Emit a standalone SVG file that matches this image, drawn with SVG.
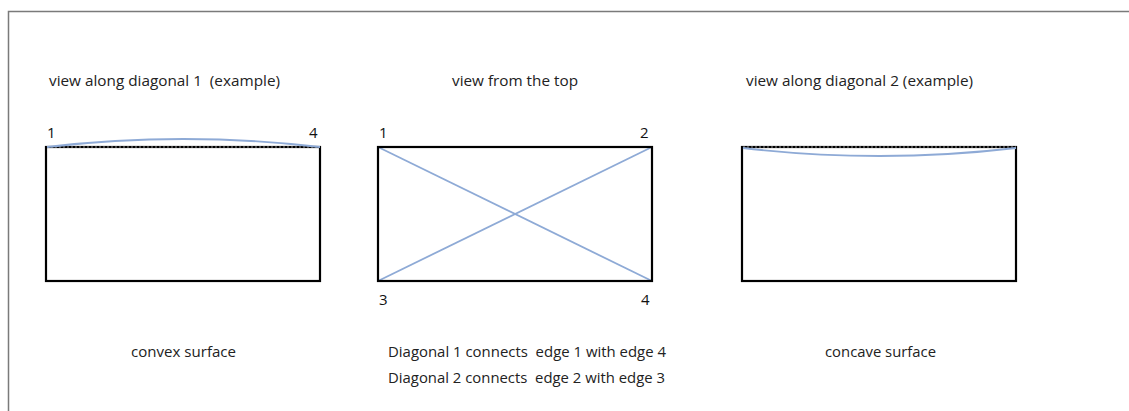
<svg xmlns="http://www.w3.org/2000/svg" width="1129" height="411" viewBox="0 0 1129 411">
<style>
.t{font-family:"Open Sans","Liberation Sans",sans-serif;font-size:15px;fill:#222;white-space:pre}
.n{font-family:"Open Sans","Liberation Sans",sans-serif;font-size:15px;fill:#111}
.box{fill:none;stroke:#000;stroke-width:2.2}
.dot{stroke:#666;stroke-width:1.3;stroke-dasharray:2 2;fill:none}
.blue{stroke:#8eaad6;stroke-width:1.8;fill:none}
</style>
<rect width="1129" height="411" fill="#fff"/>
<path d="M8.5,411 V11.5 H1129" fill="none" stroke="#7a7a7a" stroke-width="1.5"/>
<g id="left">
<text class="t" x="49" y="86" textLength="231" lengthAdjust="spacingAndGlyphs" xml:space="preserve">view along diagonal 1  (example)</text>
<text class="n" x="47" y="138">1</text>
<text class="n" x="309" y="138">4</text>
<rect class="box" x="46" y="147" width="274" height="134"/>
<line class="dot" x1="47" y1="147" x2="320" y2="147"/>
<path class="blue" d="M47,147 Q183,131 320,147"/>
<text class="t" x="131" y="357" textLength="105" lengthAdjust="spacingAndGlyphs">convex surface</text>
</g>
<g id="middle">
<text class="t" x="452" y="86" textLength="126" lengthAdjust="spacingAndGlyphs">view from the top</text>
<text class="n" x="379" y="138">1</text>
<text class="n" x="640" y="138">2</text>
<text class="n" x="379" y="305">3</text>
<text class="n" x="641" y="305">4</text>
<g id="connectors">
<line class="blue" x1="378" y1="147" x2="652" y2="281"/>
<line class="blue" x1="652" y1="147" x2="378" y2="281"/>
</g>
<rect class="box" x="378" y="147" width="274" height="134"/>
<text class="t" x="388" y="357" textLength="278" lengthAdjust="spacingAndGlyphs" xml:space="preserve">Diagonal 1 connects  edge 1 with edge 4</text>
<text class="t" x="388" y="383" textLength="277" lengthAdjust="spacingAndGlyphs" xml:space="preserve">Diagonal 2 connects  edge 2 with edge 3</text>
</g>
<g id="right">
<text class="t" x="746" y="86" textLength="227" lengthAdjust="spacingAndGlyphs">view along diagonal 2 (example)</text>
<rect class="box" x="742" y="147" width="274" height="134"/>
<line class="dot" x1="743" y1="147" x2="1016" y2="147"/>
<path class="blue" d="M743,148 Q880,164 1016,148"/>
<text class="t" x="825" y="357" textLength="111" lengthAdjust="spacingAndGlyphs">concave surface</text>
</g>
</svg>
